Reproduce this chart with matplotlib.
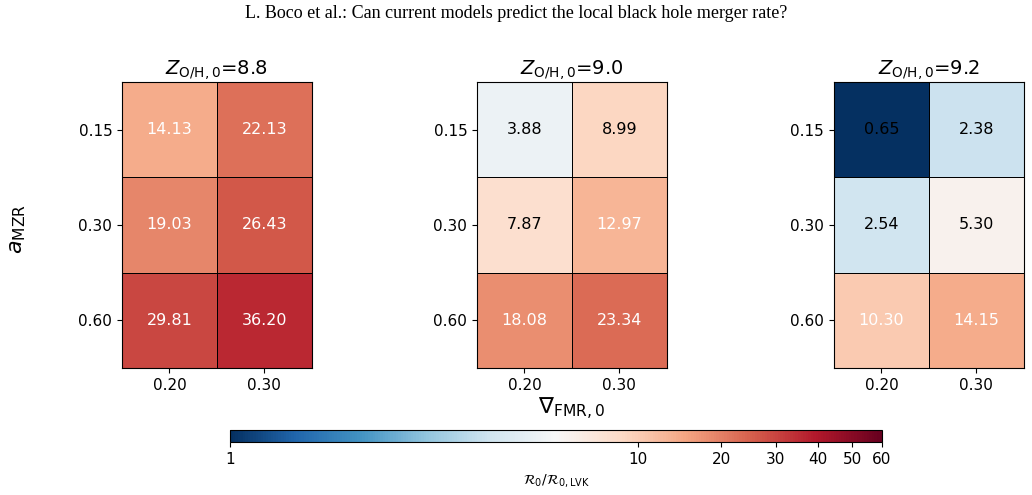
import numpy as np
import matplotlib.pyplot as plt
from matplotlib.colors import PowerNorm

# Z_O/H,0 values (one panel each)
z_oh = ['8.8', '9.0', '9.2']
a_mzr = ['0.15', '0.30', '0.60']
grad_fmr = ['0.20', '0.30']

# rows = a_MZR, cols = grad_FMR
rate_88 = [[14.13, 22.13], [19.03, 26.43], [29.81, 36.20]]
rate_90 = [[3.88, 8.99], [7.87, 12.97], [18.08, 23.34]]
rate_92 = [[0.65, 2.38], [2.54, 5.30], [10.30, 14.15]]
rates = [rate_88, rate_90, rate_92]

cbar_ticks = [1, 10, 20, 30, 40, 50, 60]

norm = PowerNorm(gamma=0.25, vmin=1, vmax=60)
cmap = plt.get_cmap('RdBu_r')

fig = plt.figure(figsize=(10.32, 4.95), dpi=100)
fig.text(0.5, 0.972, 'L. Boco et al.: Can current models predict the local black hole merger rate?',
         ha='center', va='center', family='Liberation Serif', fontsize=13)

lefts = [0.1182, 0.4622, 0.8081]
for i in range(3):
    ax = fig.add_axes([lefts[i], 0.2566, 0.184, 0.5778])
    data = np.array(rates[i])
    mesh = ax.pcolormesh(np.arange(3), np.arange(4), data, cmap=cmap, norm=norm,
                         edgecolors='k', linewidth=0.6)
    ax.set_xlim(0, 2)
    ax.set_ylim(3, 0)
    for r in range(3):
        for c in range(2):
            v = data[r, c]
            col = 'white' if v >= 10 else 'black'
            ax.text(c + 0.5, r + 0.5, '%.2f' % v, ha='center', va='center',
                    color=col, fontsize=11.5)
    ax.set_xticks(np.arange(2) + 0.5)
    ax.set_xticklabels(grad_fmr, fontsize=11)
    ax.set_yticks(np.arange(3) + 0.5)
    ax.set_yticklabels(a_mzr, fontsize=11)
    ax.set_title(r'$Z_{\rm O/H,0}$=' + z_oh[i], fontsize=14, pad=4)
    for s in ax.spines.values():
        s.set_linewidth(0.8)
    if i == 1:
        ax.set_xlabel(r'$\nabla_{\rm FMR,0}$', fontsize=16, labelpad=2)

fig.text(0.017, 0.538, r'$a_{\rm MZR}$', rotation=90, ha='center', va='center', fontsize=16)

cax = fig.add_axes([0.2229, 0.1071, 0.6318, 0.0242])
cb = fig.colorbar(mesh, cax=cax, orientation='horizontal')
cb.set_ticks(cbar_ticks)
cb.set_ticklabels([str(t) for t in cbar_ticks])
cb.ax.tick_params(labelsize=11)
cb.ax.minorticks_off()
cb.set_label(r'$\mathcal{R}_0/\mathcal{R}_{0,\rm LVK}$', fontsize=10)

fig.savefig('out.png', dpi=100)
